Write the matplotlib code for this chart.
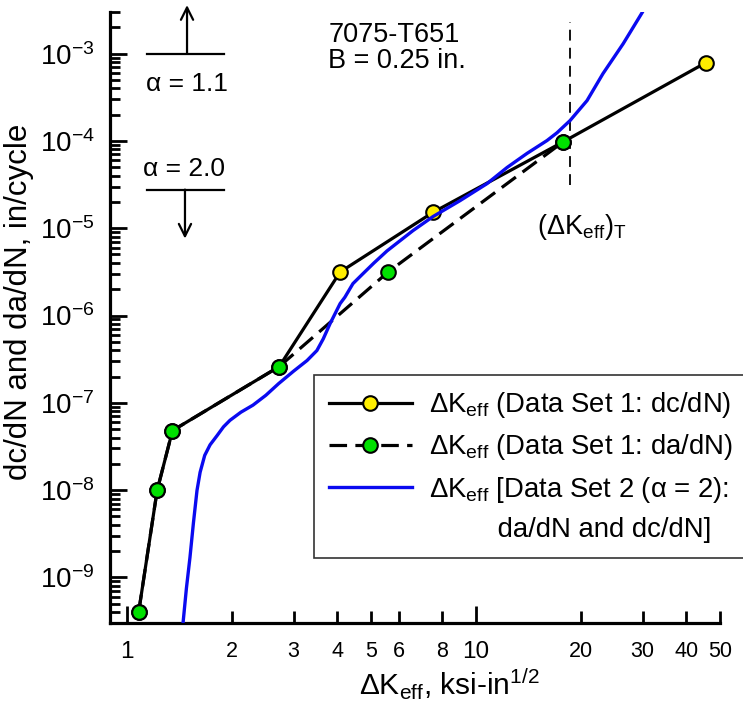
import matplotlib
matplotlib.use("Agg")
import matplotlib.pyplot as plt
from matplotlib.lines import Line2D

plt.rcParams['font.family'] = ['Liberation Sans', 'DejaVu Sans']
plt.rcParams['mathtext.fontset'] = 'custom'
plt.rcParams['mathtext.rm'] = 'Liberation Sans'
plt.rcParams['mathtext.it'] = 'Liberation Sans:italic'
plt.rcParams['mathtext.bf'] = 'Liberation Sans:bold'

# ---------------- data ----------------
# Data Set 1: dc/dN (solid, yellow markers at the upper points)
dk_dc = [1.08, 1.22, 1.35, 2.73, 4.08, 7.53, 17.8, 45.6]
dcdn = [4.0e-10, 9.9e-9, 4.8e-8, 2.6e-7, 3.15e-6, 1.52e-5, 9.8e-5, 7.9e-4]

# Data Set 1: da/dN (dashed, green markers)
dk_da = [1.08, 1.22, 1.35, 2.73, 5.60, 17.8]
dadn = [4.0e-10, 9.9e-9, 4.8e-8, 2.6e-7, 3.15e-6, 9.8e-5]

# Data Set 2 (alpha = 2): da/dN and dc/dN (blue curve)
dk_2 = [1.447, 1.48, 1.515, 1.55, 1.587, 1.62, 1.67, 1.73, 1.811, 1.89, 1.973,
        2.12, 2.296, 2.50, 2.72, 3.00, 3.28, 3.50,
        3.65, 3.82, 4.08, 4.21, 4.44, 4.75, 5.10, 5.56, 6.60, 7.53, 9.0, 10.75,
        12.27, 14.0, 15.97, 17.06, 18.59, 20.8, 23.1, 26.4, 29.9]
rate_2 = [2.97e-10, 7.5e-10, 1.69e-9, 4.2e-9, 9.9e-9, 1.6e-8, 2.5e-8, 3.3e-8, 4.2e-8, 5.3e-8, 6.3e-8,
          7.8e-8, 9.4e-8, 1.22e-7, 1.66e-7, 2.3e-7, 3.05e-7, 3.97e-7,
          5.4e-7, 8.1e-7, 1.37e-6, 1.62e-6, 2.32e-6, 3.03e-6, 4.0e-6, 5.5e-6, 9.4e-6, 1.36e-5, 2.07e-5, 3.24e-5,
          4.96e-5, 7.2e-5, 1.01e-4, 1.24e-4, 1.71e-4, 2.9e-4, 5.9e-4, 1.30e-3, 2.94e-3]

# transition value (dK_eff)_T
dk_T = 18.6
dk_T_span = (3.1e-5, 2.3e-3)

x_major = [1, 10]
x_major_labels = ['1', '10']
x_minor = [2, 3, 4, 5, 6, 8, 20, 30, 40, 50]
x_minor_labels = ['2', '3', '4', '5', '6', '8', '20', '30', '40', '50']
y_major = [1e-9, 1e-8, 1e-7, 1e-6, 1e-5, 1e-4, 1e-3]
y_major_labels = [r'10$^{-9}$', r'10$^{-8}$', r'10$^{-7}$', r'10$^{-6}$',
                  r'10$^{-5}$', r'10$^{-4}$', r'10$^{-3}$']

label_dc = r'ΔK$_{\mathrm{eff}}$ (Data Set 1: dc/dN)'
label_da = r'ΔK$_{\mathrm{eff}}$ (Data Set 1: da/dN)'
label_2a = r'ΔK$_{\mathrm{eff}}$ [Data Set 2 (α = 2):'
label_2b = '         da/dN and dc/dN]'

# ---------------- figure ----------------
W, H = 743, 719
fig = plt.figure(figsize=(W / 100, H / 100), dpi=100)
ax = fig.add_axes([110 / W, 1 - 623 / H, 610 / W, 611 / H])
ax.set_xscale('log')
ax.set_yscale('log')
ax.set_xlim(0.894, 50)
ax.set_ylim(3e-10, 3e-3)

yellow = '#ffee00'
green = '#00e000'
blue = '#0a0af0'

ax.plot(dk_dc, dcdn, color='black', lw=2.3, marker='o', ms=10.5,
        mfc=yellow, mec='black', mew=1.5, zorder=2, clip_on=False)
ax.plot(dk_da, dadn, color='black', lw=2.3, ls=(0, (5.5, 2.6)), marker='o', ms=10.5,
        mfc=green, mec='black', mew=1.5, zorder=3, clip_on=False)
ax.plot(dk_2, rate_2, color=blue, lw=2.4, zorder=4, solid_joinstyle='round')

ax.vlines(dk_T, dk_T_span[0], dk_T_span[1], colors='black', lw=1.3,
          linestyles=(0, (6, 4)), zorder=1)

# spines / ticks
for s in ['top', 'right']:
    ax.spines[s].set_visible(False)
for s in ['left', 'bottom']:
    ax.spines[s].set_linewidth(2.3)

ax.set_xticks(x_major)
ax.set_xticklabels(x_major_labels, fontsize=17.5)
ax.set_xticks(x_minor, minor=True)
ax.set_xticklabels(x_minor_labels, minor=True, fontsize=15.5)
ax.set_yticks(y_major)
ax.set_yticklabels(y_major_labels, fontsize=20)
ymin_ticks = []
for d in range(-10, -2):
    for m in range(2, 10):
        v = m * 10.0 ** d
        if 3e-10 <= v <= 3e-3:
            ymin_ticks.append(v)
ax.set_yticks(ymin_ticks, minor=True)
ax.yaxis.set_minor_formatter(matplotlib.ticker.NullFormatter())

ax.tick_params(axis='both', which='both', direction='in', width=2)
ax.tick_params(axis='y', which='major', length=12, pad=11)
ax.tick_params(axis='y', which='minor', length=7)
ax.tick_params(axis='x', which='major', length=12, pad=13)
ax.tick_params(axis='x', which='minor', length=9, pad=13)

ax.set_ylabel('dc/dN and da/dN, in/cycle', fontsize=22.5)
ax.yaxis.set_label_coords(-0.125, 0.525)
ax.set_xlabel(r'ΔK$_{\mathrm{eff}}$, ksi-in$^{1/2}$', fontsize=21.5)
ax.xaxis.set_label_coords(0.557, -0.072)

# alpha annotations
ax.plot([1.141, 1.897], [1e-3, 1e-3], color='black', lw=1.6, clip_on=False)
ax.annotate('', xy=(1.486, 3.6e-3), xytext=(1.486, 1e-3),
            arrowprops=dict(arrowstyle='->', lw=1.6, color='black',
                            mutation_scale=22, shrinkA=0, shrinkB=0),
            annotation_clip=False)
ax.text(1.486, 4.5e-4, 'α = 1.1', fontsize=19, ha='center', va='center')

ax.plot([1.141, 1.897], [2.77e-5, 2.77e-5], color='black', lw=1.6, clip_on=False)
ax.annotate('', xy=(1.466, 7.6e-6), xytext=(1.466, 2.77e-5),
            arrowprops=dict(arrowstyle='->', lw=1.6, color='black',
                            mutation_scale=22, shrinkA=0, shrinkB=0),
            annotation_clip=False)
ax.text(1.46, 4.8e-5, 'α = 2.0', fontsize=19, ha='center', va='center')

ax.text(3.77, 1.17e-3, '7075-T651\nB = 0.25 in.', fontsize=19.5, ha='left',
        va='center', linespacing=1.0)
ax.text(20.1, 1.02e-5, r'(ΔK$_{\mathrm{eff}}$)$_{\mathrm{T}}$', fontsize=19.5,
        ha='center', va='center')

# legend
h1 = Line2D([], [], color='black', lw=2.3, marker='o', ms=10.5, mfc=yellow,
            mec='black', mew=1.5)
h2 = Line2D([], [], color='black', lw=2.3, ls=(0, (5.5, 2.6)), marker='o', ms=10.5,
            mfc=green, mec='black', mew=1.5)
h3 = Line2D([], [], color=blue, lw=2.4)
h4 = Line2D([], [], color='none', lw=0)
leg = ax.legend([h1, h2, h3, h4], [label_dc, label_da, label_2a, label_2b],
                loc='upper left', bbox_to_anchor=(314 / W, 1 - 375 / H),
                bbox_transform=fig.transFigure, fontsize=19.8, numpoints=1,
                handlelength=3.0, handletextpad=0.62, borderpad=0.55,
                labelspacing=0.45, fancybox=False, framealpha=1,
                edgecolor='#333333', borderaxespad=0)
leg.get_frame().set_linewidth(1.2)

fig.savefig('out.png', dpi=100)
